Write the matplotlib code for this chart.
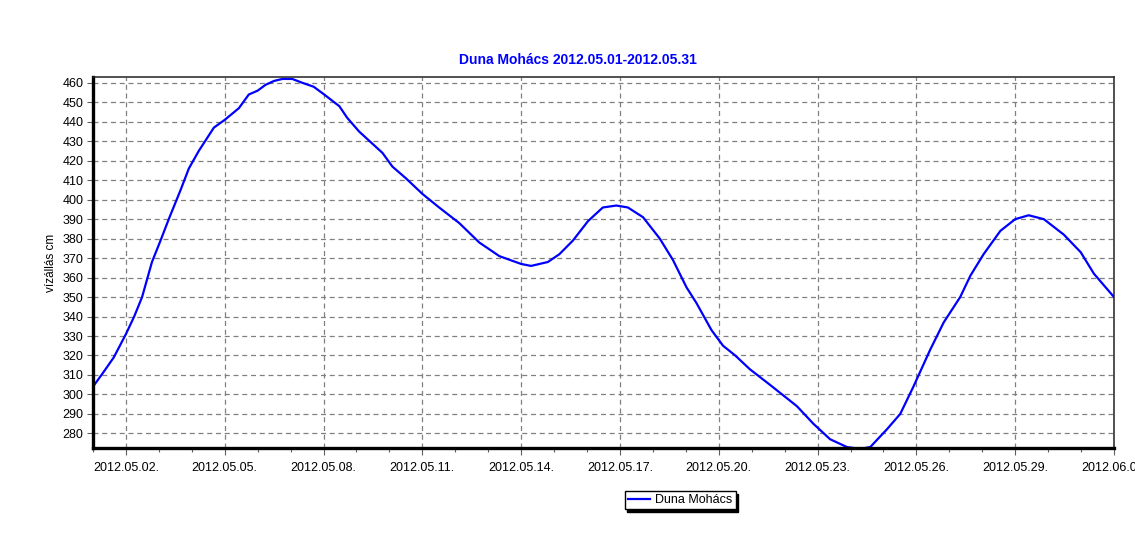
import numpy as np
import matplotlib
matplotlib.use("Agg")
import matplotlib.pyplot as plt
import matplotlib.dates as mdates

# days since 2012-05-01 00:00 and water level in cm
day_offset = [0.0, 0.3, 0.63, 1.0, 1.25, 1.49, 1.79, 2.05, 2.30, 2.66, 2.91, 3.21,
              3.67, 4.0, 4.43, 4.73, 5.0, 5.24, 5.5, 5.75, 6.05, 6.36, 6.7, 7.02,
              7.48, 7.72, 8.08, 8.79, 9.09, 9.5, 10.0, 10.51, 11.12, 11.73, 12.34,
              13.0, 13.30, 13.81, 14.16, 14.57, 15.03, 15.48, 15.89, 16.24, 16.70,
              17.21, 17.61, 18.02, 18.32, 18.78, 19.13, 19.5, 19.94, 20.55, 21.37,
              21.87, 22.38, 22.89, 23.29, 23.60, 24.10, 24.51, 24.91, 25.42, 25.83,
              26.33, 26.64, 27.04, 27.55, 28.0, 28.41, 28.87, 29.48, 29.99, 30.39,
              31.0]
level = [304, 311, 319, 331, 340, 350, 368, 379, 390, 405, 416, 425,
         437, 441, 447, 454, 456, 459, 461, 462, 462, 460, 458, 454,
         448, 442, 435, 424, 417, 411, 403, 396, 388, 378, 371,
         367, 366, 368, 372, 379, 389, 396, 397, 396, 391,
         380, 369, 355, 347, 333, 325, 320, 313, 305, 294,
         285, 277, 273, 272, 273, 282, 290, 304, 323, 337,
         350, 361, 372, 384, 390, 392, 390, 382, 373, 362,
         350]

start = np.datetime64("2012-05-01T00:00")
dates = start + (np.array(day_offset) * 24 * 60).round().astype("timedelta64[m]")
major_days = np.arange(1, 32, 3)
major_dates = start + (major_days * 24 * 60).astype("timedelta64[m]")

plt.rcParams['font.family'] = ['Liberation Sans', 'DejaVu Sans']

fig = plt.figure(figsize=(11.35, 5.54), dpi=100)
ax = fig.add_axes([93 / 1135, 1 - 448 / 554, (1114 - 93) / 1135, (448 - 77) / 554])

ax.plot(dates, level, color="#0000ff", linewidth=1.6, label="Duna Mohács")

ax.set_xlim(start, start + np.timedelta64(31, "D"))
ax.set_ylim(272.5, 463)
ax.set_yticks(np.arange(280, 461, 10))
ax.set_xticks(major_dates)
ax.xaxis.set_minor_locator(mdates.DayLocator())
ax.xaxis.set_major_formatter(mdates.DateFormatter("%Y.%m.%d."))

ax.grid(True, which="major", color="#808080", linestyle=(0, (4, 3)), linewidth=0.9)
ax.tick_params(axis="both", which="major", labelsize=9, direction="out", length=4,
               width=0.8, color="#606060", pad=3)
ax.tick_params(axis="x", which="major", length=5, pad=5)
ax.tick_params(axis="x", which="minor", length=3, width=0.8, color="#606060")

for side in ["left", "bottom"]:
    ax.spines[side].set_linewidth(2.4)
    ax.spines[side].set_color("black")
for side in ["top", "right"]:
    ax.spines[side].set_linewidth(1.1)
    ax.spines[side].set_color("#222222")

ax.set_ylabel("vízállás cm", fontsize=8.5, labelpad=4)

fig.text(578 / 1135, 1 - 60 / 554, "Duna Mohács 2012.05.01-2012.05.31",
         ha="center", va="center", fontsize=10, fontweight="bold", color="#0000ff")

fig.legend(loc="center", bbox_to_anchor=(680 / 1135, 1 - 500 / 554), fontsize=9,
           frameon=True, fancybox=False, edgecolor="black", framealpha=1,
           shadow={"color": "black", "alpha": 1}, borderpad=0.25,
           handlelength=1.8, handletextpad=0.4)

fig.savefig("out.png", dpi=100)
